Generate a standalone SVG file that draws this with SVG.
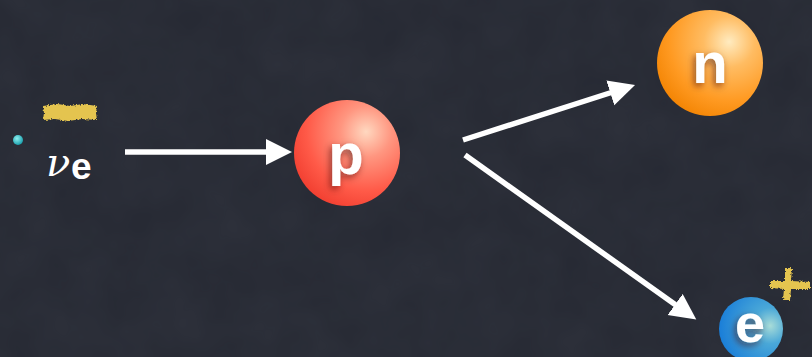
<svg xmlns="http://www.w3.org/2000/svg" width="812" height="357" viewBox="0 0 812 357">
  <defs>
    <style>
      .arrow { stroke: #ffffff; stroke-width: 5.5; fill: none; marker-end: url(#head); }
      .letter { font-family: "Liberation Sans", Arial, sans-serif; font-weight: bold; fill: #ffffff; text-anchor: middle; filter: url(#shadow); }
      .chalk { fill: #e4c450; }
    </style>
    <!-- arrowhead: tip sits 20px beyond the line end -->
    <marker id="head" markerUnits="userSpaceOnUse" markerWidth="30" markerHeight="28" refX="6" refY="13" orient="auto">
      <path d="M0,0 L26,13 L0,26 Z" fill="#ffffff"/>
    </marker>
    <radialGradient id="gradP" cx="0.68" cy="0.3" r="0.8">
      <stop offset="0" stop-color="#ffd8c0"/>
      <stop offset="0.3" stop-color="#ff9680"/>
      <stop offset="0.7" stop-color="#ff5a48"/>
      <stop offset="1" stop-color="#f03c2e"/>
    </radialGradient>
    <radialGradient id="gradN" cx="0.68" cy="0.3" r="0.8">
      <stop offset="0" stop-color="#ffebc0"/>
      <stop offset="0.3" stop-color="#ffbc62"/>
      <stop offset="0.7" stop-color="#ff9a22"/>
      <stop offset="1" stop-color="#f28200"/>
    </radialGradient>
    <radialGradient id="gradE" cx="0.8" cy="0.45" r="0.8">
      <stop offset="0" stop-color="#a8dcd8"/>
      <stop offset="0.35" stop-color="#4aa8d8"/>
      <stop offset="1" stop-color="#1a7ed8"/>
    </radialGradient>
    <radialGradient id="gradDot" cx="0.4" cy="0.35" r="0.7">
      <stop offset="0" stop-color="#8ff0f0"/>
      <stop offset="1" stop-color="#129aa8"/>
    </radialGradient>
    <filter id="shadow" x="-40%" y="-40%" width="180%" height="180%">
      <feDropShadow dx="-2" dy="3" stdDeviation="3.5" flood-color="#4a1808" flood-opacity="0.6"/>
    </filter>
    <filter id="rough" x="-10%" y="-30%" width="120%" height="160%">
      <feTurbulence type="fractalNoise" baseFrequency="0.6" numOctaves="2" seed="3" result="n"/>
      <feDisplacementMap in="SourceGraphic" in2="n" scale="4"/>
    </filter>
    <filter id="grain" x="0" y="0" width="100%" height="100%">
      <feTurbulence type="fractalNoise" baseFrequency="0.02" numOctaves="3" seed="7"/>
      <feColorMatrix type="matrix" values="0 0 0 0 0.22  0 0 0 0 0.24  0 0 0 0 0.29  0 0 0 0.25 0"/>
    </filter>
  </defs>

  <!-- board -->
  <rect width="812" height="357" fill="#262933"/>
  <rect width="812" height="357" filter="url(#grain)" opacity="0.35"/>

  <!-- incoming neutrino -->
  <g id="neutrino">
    <path class="chalk" filter="url(#rough)" d="M43,106 L58,104 L70,106 L83,104 L97,106 L96,113 L97,120 L82,119 L68,121 L55,119 L43,120 L44,113 Z"/>
    <circle cx="18" cy="140" r="5" fill="url(#gradDot)"/>
    <text x="46" y="176" font-family="'DejaVu Serif', 'Liberation Serif', serif" font-style="italic" font-size="40" fill="#ffffff">ν</text>
    <text x="71" y="179" font-family="'Liberation Sans', Arial, sans-serif" font-weight="bold" font-size="37" fill="#ffffff">e</text>
  </g>

  <g id="proton">
    <circle cx="347" cy="153" r="53" fill="url(#gradP)"/>
    <text class="letter" x="346" y="174" font-size="58">p</text>
  </g>

  <g id="neutron">
    <circle cx="710" cy="63" r="53" fill="url(#gradN)"/>
    <text class="letter" x="710" y="83" font-size="58">n</text>
  </g>

  <g id="positron">
    <circle cx="751" cy="329" r="32" fill="url(#gradE)"/>
    <text class="letter" x="750" y="342" font-size="54">e</text>
    <!-- chalk plus sign -->
    <path class="chalk" filter="url(#rough)" d="M770,281 L785,281 L785,268 L792,268 L791,281 L810,282 L810,289 L791,289 L790,300 L783,300 L784,289 L770,288 Z"/>
  </g>

  <g id="connectors">
    <line class="arrow" x1="125" y1="152" x2="272" y2="152"/>
    <line class="arrow" x1="463" y1="140" x2="616" y2="91"/>
    <line class="arrow" x1="465" y1="155" x2="680" y2="308"/>
  </g>
</svg>
